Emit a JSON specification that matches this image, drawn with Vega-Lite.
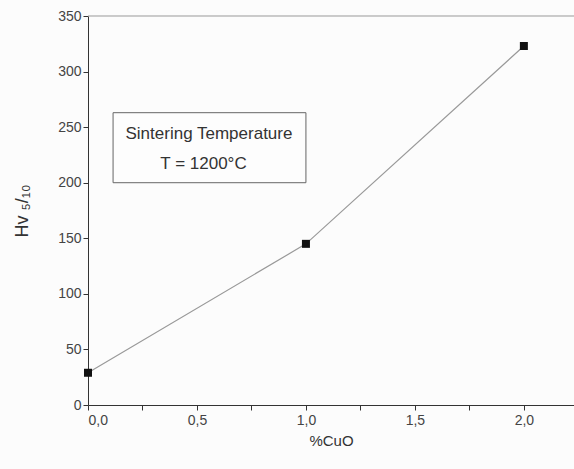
{
  "$schema": "https://vega.github.io/schema/vega-lite/v6.json",
  "width": 486,
  "height": 389,
  "autosize": {"type": "none"},
  "padding": {"left": 88, "top": 16, "right": 0, "bottom": 64},
  "background": "#fcfcfc",
  "config": {
    "view": {"stroke": null},
    "font": "Liberation Sans",
    "axis": {"labelFont": "Liberation Sans", "titleFont": "Liberation Sans", "labelColor": "#444", "titleColor": "#333", "domainColor": "#333", "tickColor": "#333", "labelFontSize": 14, "titleFontSize": 15, "titleFontWeight": "normal", "grid": false}
  },
  "datasets": {
    "pts": [
      {"cuo": 0.0, "hv": 29},
      {"cuo": 1.0, "hv": 145},
      {"cuo": 2.0, "hv": 323}
    ],
    "notes": [
      {"x": 0.555, "y": 244, "t": "Sintering Temperature", "size": 17},
      {"x": 0.53, "y": 217, "t": "T = 1200°C", "size": 17}
    ],
    "box": [{"x1": 0.115, "x2": 1.0, "y1": 200, "y2": 263}],
    "frame": [{"x1": 0, "x2": 2.23, "y": 350}]
  },
  "layer": [
    {
      "data": {"name": "frame"},
      "mark": {"type": "rule", "color": "#999", "strokeWidth": 1},
      "encoding": {
        "x": {"field": "x1", "type": "quantitative"},
        "x2": {"field": "x2"},
        "y": {"field": "y", "type": "quantitative"}
      }
    },
    {
      "data": {"name": "box"},
      "mark": {"type": "rect", "fill": "#fdfdfd", "stroke": "#666", "strokeWidth": 1},
      "encoding": {
        "x": {"field": "x1", "type": "quantitative"},
        "x2": {"field": "x2"},
        "y": {"field": "y1", "type": "quantitative"},
        "y2": {"field": "y2"}
      }
    },
    {
      "data": {"name": "notes"},
      "mark": {"type": "text", "color": "#333", "align": "center", "baseline": "middle"},
      "encoding": {
        "x": {"field": "x", "type": "quantitative"},
        "y": {"field": "y", "type": "quantitative"},
        "text": {"field": "t"},
        "size": {"field": "size", "type": "quantitative", "scale": null}
      }
    },
    {
      "data": {"name": "pts"},
      "mark": {"type": "line", "color": "#999", "strokeWidth": 1.2, "point": {"shape": "square", "filled": true, "color": "#111", "size": 64, "opacity": 1}},
      "encoding": {
        "x": {
          "field": "cuo", "type": "quantitative",
          "scale": {"domain": [0, 2.23], "nice": false, "zero": false},
          "axis": {
            "title": "%CuO",
            "values": [0, 0.25, 0.5, 0.75, 1.0, 1.25, 1.5, 1.75, 2.0],
            "labelExpr": "(round(datum.value*100) % 50 == 0) ? replace(format(datum.value, '.1f'), '.', ',') : ''",
            "tickSize": 5,
            "labelPadding": 3,
            "titlePadding": 6
          }
        },
        "y": {
          "field": "hv", "type": "quantitative",
          "scale": {"domain": [0, 350], "nice": false},
          "axis": {
            "title": "Hv   ₅/₁₀",
            "values": [0, 25, 50, 75, 100, 125, 150, 175, 200, 225, 250, 275, 300, 325, 350],
            "labelExpr": "datum.value % 50 == 0 ? datum.label : ''",
            "tickSize": 5,
            "titleFontSize": 18,
            "titlePadding": 26
          }
        }
      }
    }
  ]
}
